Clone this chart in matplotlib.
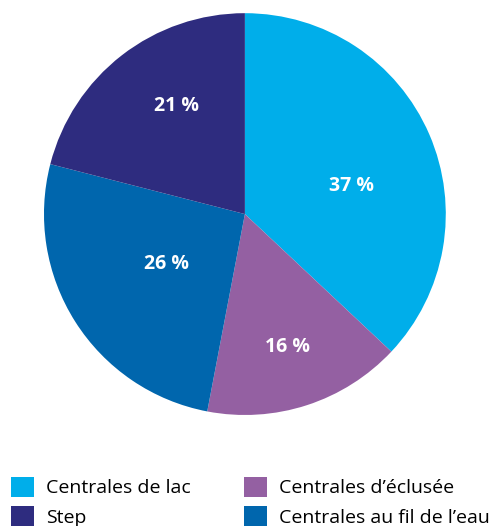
import matplotlib.pyplot as plt
from matplotlib.patches import Patch

# Données
categories = ["Centrales de lac", "Centrales d\u2019éclusée", "Centrales au fil de l\u2019eau", "Step"]
parts = [37, 16, 26, 21]
couleurs = ["#00AEEA", "#9460A2", "#0066AD", "#2E2C7F"]
etiquettes = ["37 %", "16 %", "26 %", "21 %"]
# position des étiquettes (relatif au centre, en rayons)
pos_etiquettes = [(0.53, 0.14), (0.21, -0.66), (-0.39, -0.25), (-0.34, 0.54)]

plt.rcParams['font.family'] = ['Open Sans', 'DejaVu Sans']

fig = plt.figure(figsize=(5.01, 5.26), dpi=100)
ax = fig.add_axes([0.0878, 0.211, 0.802, 0.764])

ax.pie(parts, colors=couleurs, startangle=90, counterclock=False,
       wedgeprops={'linewidth': 0})
ax.set_xlim(-1, 1)
ax.set_ylim(-1, 1)
ax.set_aspect('equal')

for txt, (x, y) in zip(etiquettes, pos_etiquettes):
    ax.text(x, y, txt, color='white', fontsize=14, fontweight='bold',
            ha='center', va='center')

# Légende (ordre: colonne 1 puis colonne 2)
ordre = [0, 3, 1, 2]
handles = [Patch(facecolor=couleurs[i], edgecolor='none') for i in ordre]
labels = [categories[i] for i in ordre]
fig.legend(handles, labels, ncol=2, loc='upper left',
           bbox_to_anchor=(11 / 501, 1 - 477 / 526), frameon=False,
           fontsize=14, handlelength=1.18, handleheight=1.18,
           handletextpad=0.62, columnspacing=2.75, labelspacing=0.45,
           borderpad=0, borderaxespad=0)

plt.savefig("out.png", dpi=100)
